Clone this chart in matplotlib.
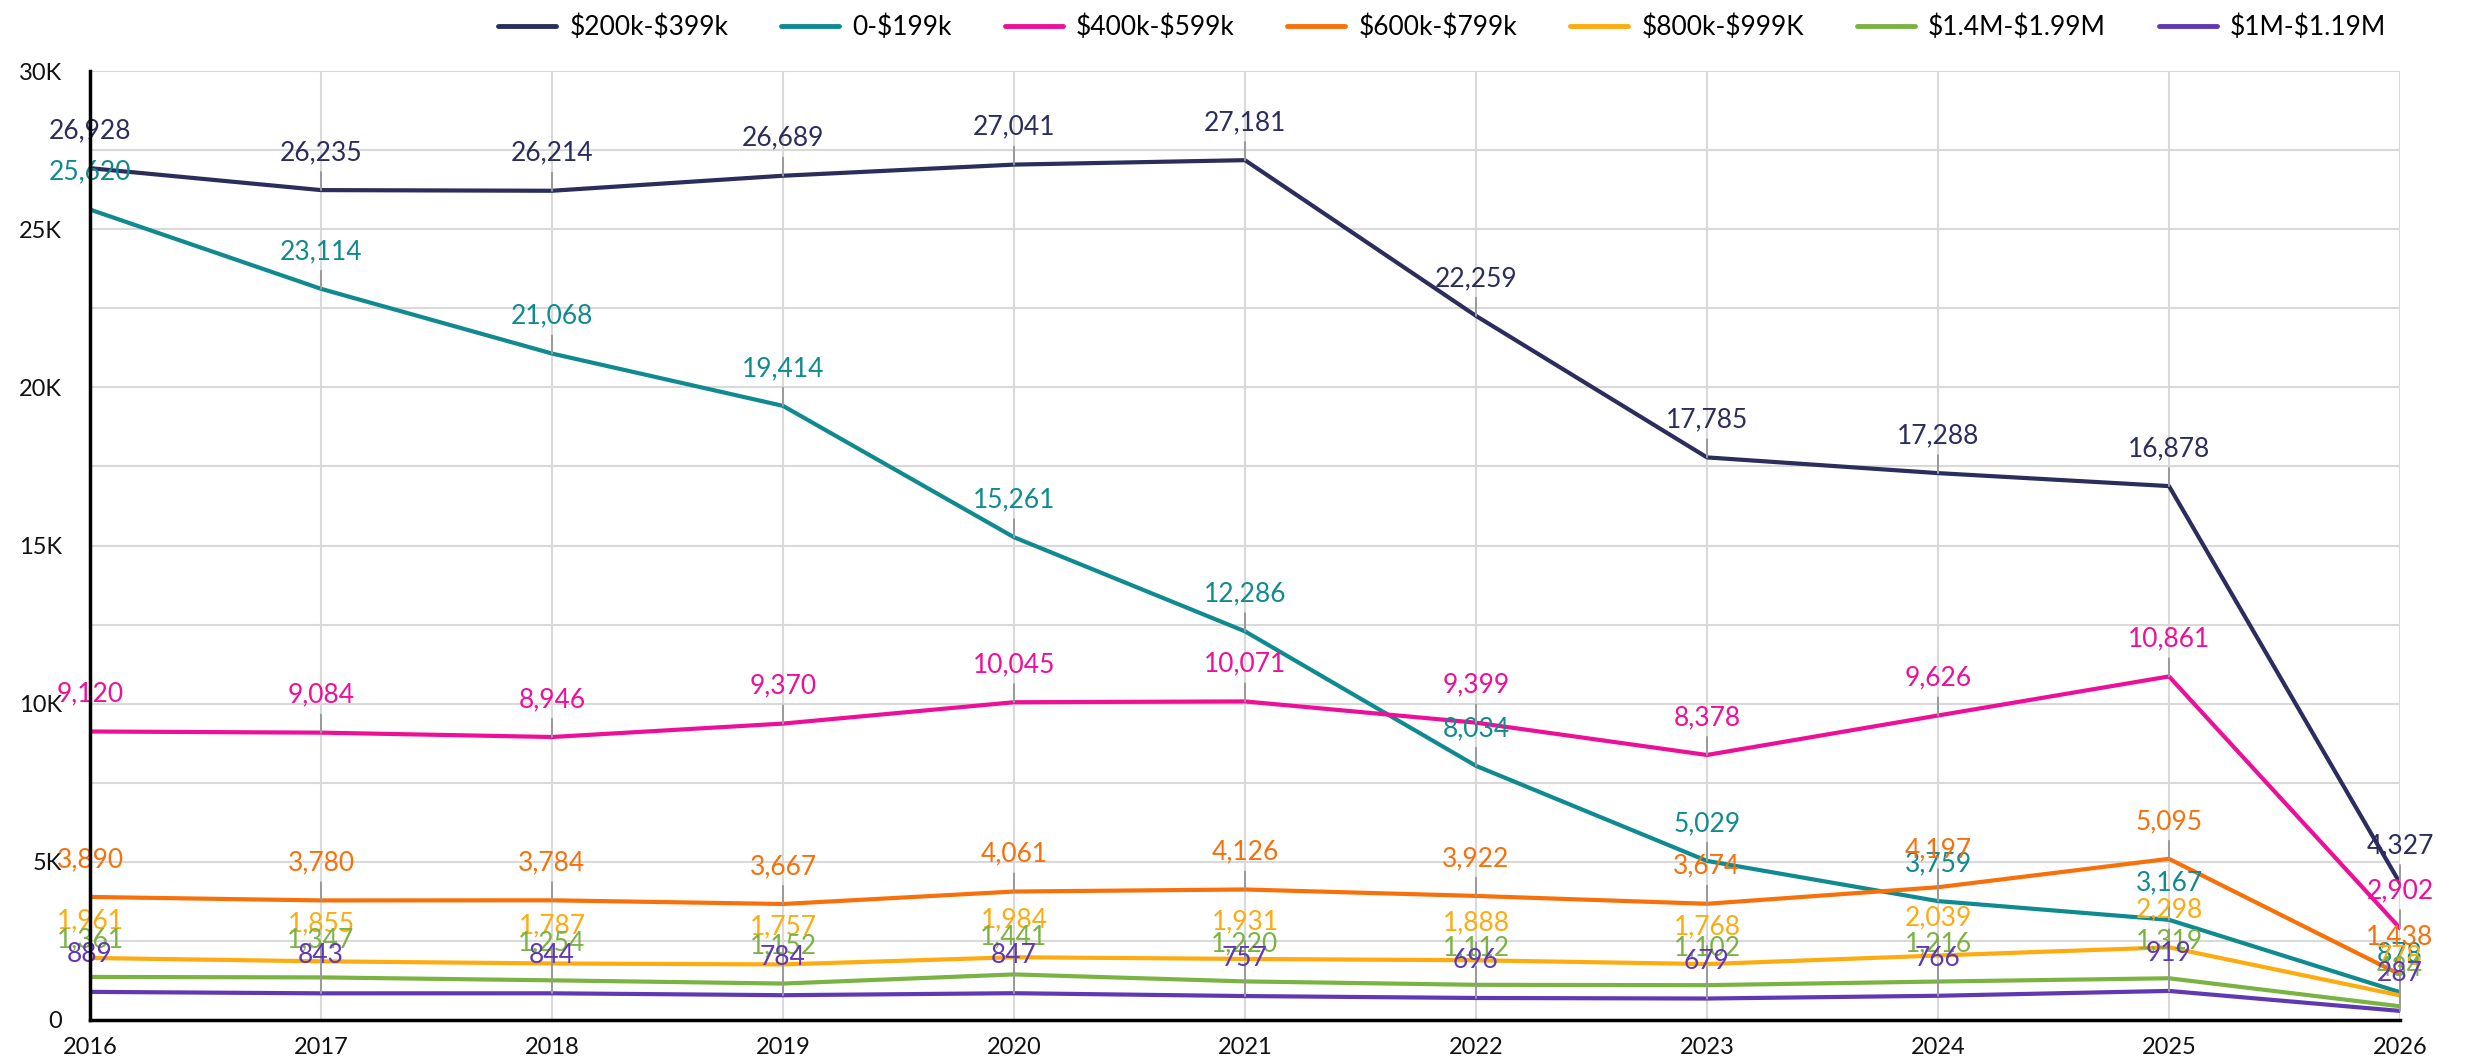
import matplotlib
matplotlib.use('Agg')
import matplotlib.pyplot as plt
from matplotlib.ticker import MultipleLocator, FuncFormatter

plt.rcParams['font.family'] = ['Lato', 'DejaVu Sans']

years = [2016, 2017, 2018, 2019, 2020, 2021, 2022, 2023, 2024, 2025, 2026]

s_200_399k = [26928, 26235, 26214, 26689, 27041, 27181, 22259, 17785, 17288, 16878, 4327]
s_0_199k = [25620, 23114, 21068, 19414, 15261, 12286, 8034, 5029, 3759, 3167, 878]
s_400_599k = [9120, 9084, 8946, 9370, 10045, 10071, 9399, 8378, 9626, 10861, 2902]
s_600_799k = [3890, 3780, 3784, 3667, 4061, 4126, 3922, 3674, 4197, 5095, 1438]
s_800_999k = [1961, 1855, 1787, 1757, 1984, 1931, 1888, 1768, 2039, 2298, 778]
s_14_199m = [1361, 1347, 1254, 1152, 1441, 1220, 1112, 1102, 1216, 1319, 434]
s_1_119m = [889, 843, 844, 784, 847, 757, 696, 679, 766, 919, 287]

series = [
    (r'\$200k-\$399k', s_200_399k, '#2b2d5c'),
    (r'0-\$199k', s_0_199k, '#0f8a8f'),
    (r'\$400k-\$599k', s_400_599k, '#ee0f98'),
    (r'\$600k-\$799k', s_600_799k, '#f8700a'),
    (r'\$800k-\$999K', s_800_999k, '#fdab0f'),
    (r'\$1.4M-\$1.99M', s_14_199m, '#7bb343'),
    (r'\$1M-\$1.19M', s_1_119m, '#6138b3'),
]

fig = plt.figure(figsize=(24.69, 10.58), dpi=100)
ax = fig.add_axes([90 / 2469, 1 - 1020 / 1058, (2400 - 90) / 2469, (1020 - 71) / 1058])

for name, vals, col in series:
    ax.plot(years, vals, color=col, lw=3.0, label=name, zorder=3, solid_capstyle='round')
    for x, v in zip(years, vals):
        ax.annotate(f'{v:,}', xy=(x, v), xytext=(0, 27), textcoords='offset points',
                    ha='center', va='center', fontsize=19, color=col, zorder=4,
                    arrowprops=dict(arrowstyle='-', color='#9a9a9a', lw=1.4,
                                    shrinkA=3, shrinkB=0))

ax.set_xlim(2016, 2026)
ax.set_ylim(0, 30000)
ax.set_xticks(years)
ax.yaxis.set_major_locator(MultipleLocator(5000))
ax.yaxis.set_minor_locator(MultipleLocator(2500))
ax.yaxis.set_major_formatter(FuncFormatter(lambda v, p: '0' if v == 0 else f'{int(v / 1000)}K'))
ax.grid(True, which='both', axis='y', color='#d9d9d9', lw=1.5, zorder=0)
ax.grid(True, which='major', axis='x', color='#d9d9d9', lw=1.5, zorder=0)
ax.tick_params(axis='both', which='both', length=0, labelsize=17, colors='#111111')
ax.tick_params(axis='y', pad=20)
ax.tick_params(axis='x', pad=12)

for side in ['top', 'right']:
    ax.spines[side].set_visible(False)
for side in ['left', 'bottom']:
    ax.spines[side].set_color('black')
    ax.spines[side].set_linewidth(2.5)
    ax.spines[side].set_zorder(5)

leg = fig.legend(loc='center right', bbox_to_anchor=(2410 / 2469, 1 - 27 / 1058), ncol=7,
                 frameon=False, fontsize=19, handlelength=2.2, columnspacing=2.0,
                 handletextpad=0.5)
for h in leg.get_lines():
    h.set_linewidth(3.5)

fig.savefig('out.png', dpi=100)
